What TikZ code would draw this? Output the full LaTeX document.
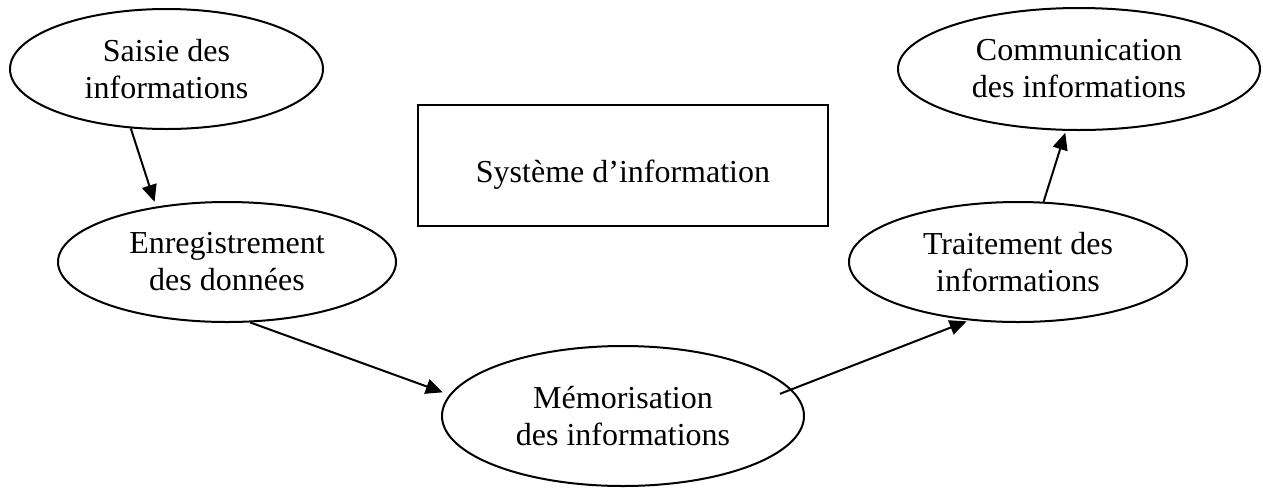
\documentclass[tikz,border=0pt]{standalone}
\usepackage{fontspec}
\setmainfont{Liberation Serif}
\usetikzlibrary{shapes.geometric,arrows.meta}
\begin{document}
% coordinates are in pixels (1px = 0.5pt), y grows downwards
\begin{tikzpicture}[x=0.5pt,y=-0.5pt,
  every node/.style={font=\fontsize{16}{18.5}\selectfont},
  stage/.style={ellipse, draw, line width=1pt, inner sep=0pt, align=center},
  sysbox/.style={rectangle, draw, line width=1.1pt, inner sep=0pt},
  flow/.style={-{Triangle[length=8.5pt,width=7.5pt]}, line width=1pt},
]
\useasboundingbox (0,0) rectangle (1263,488);

% process stages
\node[stage, minimum width=156.5pt, minimum height=60pt] (saisie) at (166.5,69)
  {Saisie des\\informations};
\node[stage, minimum width=169pt, minimum height=60pt] (enreg) at (227,262)
  {Enregistrement\\des données};
\node[stage, minimum width=181pt, minimum height=70pt] (memo) at (623,416)
  {Mémorisation\\des informations};
\node[stage, minimum width=169pt, minimum height=60pt] (trait) at (1018,262)
  {Traitement des\\informations};
\node[stage, minimum width=181pt, minimum height=61pt] (comm) at (1079,69)
  {Communication\\des informations};

% title box
\node[sysbox, minimum width=205pt, minimum height=60.5pt,
      text height=16.5pt, text depth=0pt] (si) at (623,165.5)
  {Système d’information};

% flow between stages
\draw[flow, shorten >=2.5pt] (saisie.-121) -- (enreg.142);
\draw[flow, shorten >=3.5pt] (enreg.-69) -- (memo.173);
\draw[flow, shorten <=-6.25pt, shorten >=1.25pt] (memo.9.3) -- (trait.230);
\draw[flow, shorten >=1pt] (trait.67) -- (comm.-102);
\end{tikzpicture}
\end{document}
